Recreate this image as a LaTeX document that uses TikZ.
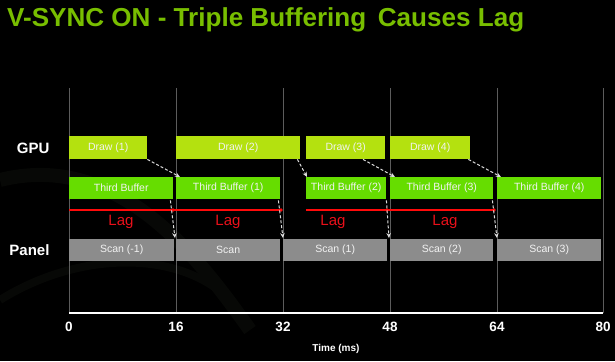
\documentclass[tikz,border=0pt]{standalone}
\usepackage{fontspec}
\setmainfont{Liberation Sans}
\usetikzlibrary{arrows.meta,calc}
\definecolor{titlegreen}{HTML}{78BE00}
\definecolor{drawcol}{HTML}{B4E10F}
\definecolor{tbcol}{HTML}{66DD00}
\definecolor{scancol}{HTML}{8C8C8C}
\definecolor{gridcol}{HTML}{5C5C5C}
\definecolor{lagred}{HTML}{FF0A0A}
\definecolor{lagtext}{HTML}{E8101A}
\definecolor{arrcol}{HTML}{DCDCDC}
\definecolor{bgswirl}{HTML}{070806}
\begin{document}
\begin{tikzpicture}[x=1pt,y=-1pt,
  bar/.style={anchor=north west, inner sep=0pt, text=white!95!black, font=\fontsize{10.5}{12}\selectfont},
  drawbar/.style={bar, fill=drawcol, minimum height=23pt},
  tbbar/.style={bar, fill=tbcol, minimum height=22pt},
  scanbar/.style={bar, fill=scancol, minimum height=22pt},
  rowlab/.style={anchor=base east, text=white, font=\fontsize{15}{17}\bfseries\selectfont},
  laglab/.style={text=lagtext, font=\fontsize{15}{17}\selectfont},
  axislab/.style={text=white, font=\fontsize{13.5}{16}\bfseries\selectfont},
  gridline/.style={draw=gridcol, line width=0.8pt},
  dasharrow/.style={draw=arrcol, line width=1pt, dash pattern=on 3pt off 2pt, -{Stealth[length=5pt,width=4.5pt]}},
  lagline/.style={draw=lagred, line width=1.6pt},
  lagdot/.style={fill=lagred}
]
\fill[black] (0,0) rectangle (615,361);
\useasboundingbox (0,0) rectangle (615,361);
% faint background swirls
\begin{scope}
\clip (0,0) rectangle (615,361);
\draw[bgswirl, line width=14pt] (0,180) .. controls (120,150) and (200,260) .. (250,330);
\draw[bgswirl, line width=8pt] (0,300) .. controls (80,250) and (180,250) .. (230,300);
\end{scope}

% title
\node[anchor=base west, inner sep=0pt, text=titlegreen] (title) at (7,27)
  {\resizebox{517pt}{\height}{\fontsize{26}{30}\bfseries\selectfont V-SYNC ON - Triple Buffering\, Causes Lag}};

% grid
\foreach \i/\x in {0/69,1/176,2/283,3/390,4/497,5/603} {
  \coordinate (gt\i) at (\x,88);
  \coordinate (gb\i) at (\x,313);
  \draw[gridline] (gt\i) -- (gb\i);
}
\draw[white, line width=2pt] (gb0) -- (gb5);
\foreach \i/\x/\t in {0/69/0,1/176/16,2/283/32,3/390/48,4/497/64,5/603/80} {
  \node[axislab] (al\i) at (\x,327) {\t};
}
\node[text=white, font=\fontsize{10}{12}\bfseries\selectfont] (axt) at (336,349) {Time (ms)};

% row labels
\node[rowlab] (gpu) at (53,153) {GPU};
\node[rowlab] (panel) at (53,255) {Panel};

% draw bars
\node[drawbar, minimum width=78pt] (d1) at (69,136) {Draw (1)};
\node[drawbar, minimum width=124pt] (d2) at (176,136) {Draw (2)};
\node[drawbar, minimum width=79pt] (d3) at (306,136) {Draw (3)};
\node[drawbar, minimum width=80pt] (d4) at (390,136) {Draw (4)};

% third buffer bars
\node[tbbar, minimum width=104pt] (t0) at (69,177) {Third Buffer};
\node[tbbar, minimum width=104pt] (t1) at (176,177) {Third Buffer (1)};
\node[tbbar, minimum width=80pt] (t2) at (306,177) {Third Buffer (2)};
\node[tbbar, minimum width=103pt] (t3) at (390,177) {Third Buffer (3)};
\node[tbbar, minimum width=104pt] (t4) at (497,177) {Third Buffer (4)};

% scan bars
\node[scanbar, minimum width=105pt] (s0) at (69,239) {Scan (-1)};
\node[scanbar, minimum width=104pt] (s1) at (176,239) {Scan};
\node[scanbar, minimum width=104pt] (s2) at (283,239) {Scan (1)};
\node[scanbar, minimum width=103pt] (s3) at (390,239) {Scan (2)};
\node[scanbar, minimum width=104pt] (s4) at (497,239) {Scan (3)};

% lag lines
\coordinate (r0) at (69,210);
\coordinate (r1) at (173,210);
\coordinate (r2) at (281,210);
\coordinate (r3) at (306,210);
\coordinate (r4) at (387,210);
\coordinate (r5) at (494,210);
\draw[lagline] (r0) -- (r2);
\draw[lagline] (r3) -- (r5);
\foreach \r in {r1,r2,r4,r5} { \fill[lagdot] (\r) circle (1.8pt); }
\node[laglab] (lag1) at (121,222) {Lag};
\node[laglab] (lag2) at (228,222) {Lag};
\node[laglab] (lag3) at (333,222) {Lag};
\node[laglab] (lag4) at (445,222) {Lag};

% draw -> third buffer
\draw[dasharrow] (d1.south east) -- ($(t1.north west)+(4,0)$);
\draw[dasharrow] ($(d2.south east)+(-3,0)$) -- ($(t2.north west)+(1,0)$);
\draw[dasharrow] ($(d3.south west)+(57,0)$) -- ($(t3.north west)+(5,0)$);
\draw[dasharrow] ($(d4.south east)+(-2,0)$) -- ($(t4.north west)+(4,0)$);

% third buffer -> scan
\draw[dasharrow] ($(t0.south east)+(-3,1)$) -- ($(s1.north west)+(-1,-1)$);
\draw[dasharrow] ($(t1.south east)+(-2,1)$) -- ($(s2.north west)+(0,-1)$);
\draw[dasharrow] ($(t2.south east)+(0,1)$) -- ($(s3.north west)+(-1,-1)$);
\draw[dasharrow] ($(t3.south east)+(-1,1)$) -- ($(s4.north west)+(0,-1)$);
\end{tikzpicture}
\end{document}
